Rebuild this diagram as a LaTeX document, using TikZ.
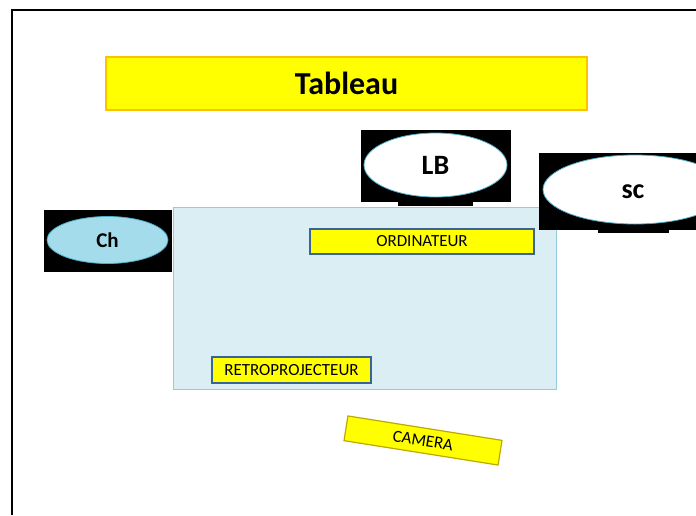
\documentclass[tikz,border=0pt]{standalone}
\usepackage{fontspec}
\setmainfont{Carlito}
\usetikzlibrary{shapes.geometric}
\definecolor{jaune}{HTML}{FFFF00}
\definecolor{orangebord}{HTML}{FFC000}
\definecolor{bleuclair}{HTML}{DAEEF3}
\definecolor{bleubord}{HTML}{93CDDD}
\definecolor{bleufonce}{HTML}{3B6496}
\definecolor{bleuell}{HTML}{4BACC6}
\definecolor{bleuch}{HTML}{A5DCEB}
\definecolor{orbord}{HTML}{BFA800}
\tikzset{
	objet/.style={draw=bleufonce, line width=1.2pt, fill=jaune, inner sep=0pt,
		font=\fontsize{17}{17}\selectfont},
	perso/.style={ellipse, draw=bleuell, line width=0.8pt, inner sep=0pt,
		font=\bfseries},
	fond/.style={fill=black}
}
\begin{document}
\begin{tikzpicture}[x=1pt, y=-1pt]
	\useasboundingbox (0,0) rectangle (696,515);
	\fill[white] (0,0) rectangle (696,515);
	\draw[line width=2.5pt] (12,515) -- (12,10) -- (696,10);
	\node[draw=orangebord, line width=1.2pt, fill=jaune, minimum width=481pt, minimum height=53pt,
		font=\fontsize{32}{32}\selectfont\bfseries] (tableau) at (346.5,83.5) {Tableau};
	\node[draw=bleubord, line width=1pt, fill=bleuclair, minimum width=383pt, minimum height=182pt] (salle) at (364.5,298) {};
	\fill[fond] (361,130) rectangle (511,202);
	\fill[fond] (398,202) rectangle (473,206);
	\node[perso, fill=white, minimum width=143pt, minimum height=64pt,
		font=\fontsize{28}{28}\selectfont\bfseries] (lb) at (435.5,165) {LB};
	\fill[fond] (539,153) rectangle (696,230);
	\fill[fond] (598,230) rectangle (669,233);
	\begin{scope}
		\clip (0,0) rectangle (696,515);
		\node[perso, fill=white, minimum width=184pt, minimum height=69pt,
			font=\fontsize{28}{28}\selectfont\bfseries] (sc) at (635,189.5) {};
	\end{scope}
	\node[font=\fontsize{28}{28}\selectfont\bfseries] (sclabel) at (633,192) {sc};
	\fill[fond] (44,210) rectangle (172,272);
	\node[perso, fill=bleuch, minimum width=121pt, minimum height=47pt,
		font=\fontsize{21}{21}\selectfont\bfseries] (ch) at (107.5,240) {Ch};
	\node[objet, minimum width=224pt, minimum height=25pt] (ordi) at (422,241.5) {ORDINATEUR};
	\node[objet, minimum width=159pt, minimum height=26pt] (retro) at (291.5,370) {RETROPROJECTEUR};
	\node[objet, draw=orbord, minimum width=156pt, minimum height=25pt, rotate=-9] (camera) at (423,440.5) {CAMERA};
\end{tikzpicture}
\end{document}
